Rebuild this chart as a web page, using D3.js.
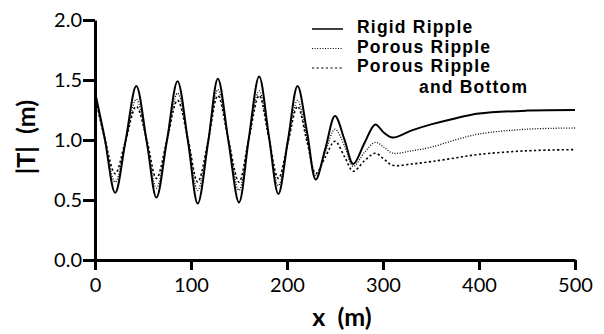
<!DOCTYPE html>
<html><head><meta charset="utf-8">
<script src="https://cdn.jsdelivr.net/npm/d3@7"></script>
<style>
html,body{margin:0;padding:0;background:#fff;}
svg text{font-family:Lato,"Open Sans","DejaVu Sans",sans-serif;fill:#000;}
svg text.leg{font-family:"Liberation Sans",Arial,sans-serif;font-weight:bold;letter-spacing:1.2px;}
</style></head>
<body><svg id="c" width="604" height="334"></svg>
<script>
const xPos = [0,10,21,32,43,54,64,75,86,97,107,118,128,139,150,160,171,181,191,201,211,221,230,240,250,260,269,281,292,301,310,330,350,375,400,450,500];
const rigid = [1.40,1.02,0.56,1.00,1.45,0.98,0.52,1.00,1.49,0.98,0.47,0.99,1.51,0.99,0.48,1.00,1.53,1.04,0.55,1.00,1.45,1.06,0.67,0.93,1.20,1.00,0.80,0.98,1.13,1.06,1.02,1.08,1.13,1.18,1.22,1.245,1.25];
const porous = [1.38,1.00,0.65,0.99,1.34,0.98,0.60,0.99,1.39,1.00,0.58,1.00,1.42,1.00,0.58,1.00,1.41,1.02,0.62,0.98,1.33,1.00,0.70,0.90,1.09,0.95,0.78,0.90,0.98,0.94,0.89,0.91,0.94,1.00,1.05,1.09,1.10];
const porousBottom = [1.36,1.02,0.72,1.00,1.28,1.00,0.68,1.00,1.33,1.00,0.65,1.00,1.37,1.00,0.65,1.00,1.37,1.02,0.68,0.98,1.28,0.98,0.72,0.86,0.99,0.86,0.74,0.83,0.89,0.84,0.79,0.80,0.82,0.85,0.88,0.91,0.92];
const xTicks = [0,100,200,300,400,500];
const yTicks = [0,0.5,1.0,1.5,2.0];
const seriesNames = ["Rigid Ripple","Porous Ripple","Porous Ripple"];

const svg = d3.select("#c");
const x = d3.scaleLinear().domain([0,500]).range([95,575]);
const y = d3.scaleLinear().domain([0,2]).range([260,20]);

const line = d3.line().x(d=>x(d[0])).y(d=>y(d[1])).curve(d3.curveCatmullRom.alpha(0.5));
const series = [
  {vals: rigid, w: 2, dash: null},
  {vals: porous, w: 1.3, dash: "1,1.6"},
  {vals: porousBottom, w: 1.6, dash: "2.2,2.4"}
];
series.forEach(s=>{
  svg.append("path").datum(xPos.map((v,i)=>[v,s.vals[i]]))
    .attr("d",line).attr("fill","none").attr("stroke","#000")
    .attr("stroke-width",s.w).attr("stroke-dasharray",s.dash);
});

// axes
const xAxis = svg.append("g").attr("transform","translate(0,260)")
  .call(d3.axisBottom(x).tickValues(xTicks).tickFormat(d3.format("d")).tickSize(10).tickSizeOuter(0).tickPadding(8));
const yAxis = svg.append("g").attr("transform","translate(95,0)")
  .call(d3.axisLeft(y).tickValues(yTicks).tickFormat(d3.format(".1f")).tickSize(12).tickSizeOuter(0).tickPadding(1));
[xAxis,yAxis].forEach(a=>{
  a.select(".domain").attr("stroke","#000").attr("stroke-width",3);
  a.selectAll(".tick line").attr("stroke","#000").attr("stroke-width",3);
  a.selectAll(".tick text").attr("font-size",20).attr("fill","#000");
});

svg.append("text").attr("x",342).attr("y",326).attr("text-anchor","middle")
  .attr("font-size",25).attr("font-weight","bold").style("white-space","pre").text("x  (m)");
svg.append("text").attr("transform","translate(35,137) rotate(-90)").attr("text-anchor","middle")
  .attr("font-size",25).attr("font-weight","bold").style("white-space","pre").text("|T|  (m)");

// legend
const lg = svg.append("g");
const rows = [{yy:33, s:series[0]},{yy:52.5, s:series[1]},{yy:72, s:series[2]}];
rows.forEach((r,i)=>{
  lg.append("line").attr("x1",312).attr("x2",343).attr("y1",r.yy-4).attr("y2",r.yy-4)
    .attr("stroke","#000").attr("stroke-width",i===0?1.5:1.2).attr("stroke-dasharray",r.s.dash);
  lg.append("text").attr("class","leg").attr("x",357).attr("y",r.yy).attr("font-size",17.5).text(seriesNames[i]);
});
lg.append("text").attr("class","leg").attr("x",419).attr("y",92.5).attr("font-size",17.5).text("and Bottom");
</script></body></html>
